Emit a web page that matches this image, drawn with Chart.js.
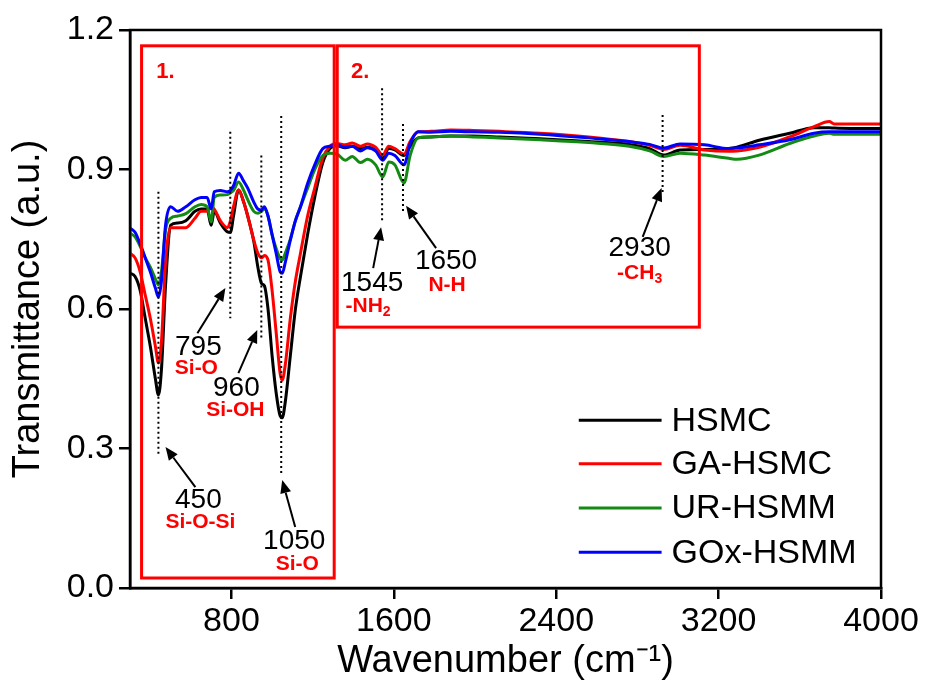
<!DOCTYPE html>
<html><head><meta charset="utf-8">
<script src="https://cdn.jsdelivr.net/npm/chart.js@4/dist/chart.umd.min.js"></script>
<style>html,body{margin:0;padding:0;background:#fff;}</style>
</head><body>
<canvas id="c" width="925" height="687"></canvas>
<script>
// ---- data (wavenumber in cm-1, transmittance in a.u.) ----
const wavenumbers = [300,325,350,375,400,425,440,455,475,500,535,575,620,650,680,700,715,745,780,795,810,835,860,880,910,930,948,962,980,1000,1020,1040,1050,1065,1090,1115,1140,1175,1210,1250,1285,1320,1360,1395,1435,1470,1510,1545,1575,1605,1650,1680,1720,1780,1880,1990,2120,2320,2560,2760,2860,2930,3010,3130,3250,3290,3400,3550,3670,3745,3770,3890,4000];
const hsmc = [0.677,0.67,0.64,0.58,0.52,0.45,0.415,0.47,0.65,0.78,0.785,0.79,0.81,0.815,0.815,0.78,0.81,0.785,0.766,0.765,0.80,0.856,0.83,0.80,0.745,0.69,0.655,0.65,0.60,0.50,0.42,0.37,0.366,0.40,0.50,0.60,0.67,0.76,0.84,0.915,0.945,0.951,0.947,0.95,0.945,0.948,0.942,0.925,0.945,0.942,0.93,0.95,0.968,0.97,0.972,0.972,0.97,0.966,0.96,0.954,0.945,0.931,0.942,0.943,0.945,0.948,0.963,0.978,0.99,0.99,0.989,0.988,0.988];
const gaHsmc = [0.72,0.71,0.68,0.63,0.58,0.52,0.484,0.53,0.70,0.775,0.775,0.775,0.795,0.81,0.81,0.82,0.815,0.79,0.775,0.79,0.82,0.856,0.83,0.80,0.748,0.72,0.71,0.715,0.705,0.64,0.55,0.46,0.447,0.48,0.58,0.66,0.72,0.80,0.86,0.925,0.95,0.956,0.953,0.957,0.95,0.955,0.948,0.931,0.95,0.945,0.933,0.96,0.981,0.982,0.985,0.984,0.982,0.978,0.97,0.96,0.952,0.943,0.952,0.942,0.939,0.94,0.948,0.97,0.992,1.003,0.998,0.998,0.998];
const urHsmm = [0.763,0.755,0.735,0.71,0.69,0.665,0.652,0.68,0.77,0.795,0.80,0.805,0.82,0.825,0.82,0.787,0.84,0.845,0.846,0.85,0.855,0.873,0.855,0.835,0.81,0.806,0.81,0.815,0.80,0.76,0.73,0.708,0.705,0.72,0.75,0.79,0.82,0.86,0.90,0.93,0.935,0.933,0.92,0.928,0.915,0.922,0.91,0.884,0.916,0.91,0.871,0.93,0.968,0.97,0.972,0.97,0.968,0.964,0.958,0.95,0.94,0.928,0.935,0.931,0.924,0.922,0.931,0.956,0.972,0.978,0.976,0.976,0.976];
const goxHsmm = [0.774,0.765,0.74,0.71,0.68,0.645,0.626,0.66,0.78,0.82,0.81,0.82,0.835,0.84,0.84,0.815,0.852,0.855,0.852,0.855,0.865,0.892,0.875,0.86,0.83,0.815,0.813,0.82,0.80,0.76,0.72,0.68,0.677,0.70,0.748,0.79,0.82,0.87,0.91,0.945,0.95,0.953,0.948,0.95,0.94,0.947,0.94,0.92,0.935,0.93,0.91,0.955,0.981,0.98,0.982,0.981,0.98,0.976,0.968,0.96,0.954,0.946,0.955,0.953,0.945,0.946,0.953,0.964,0.978,0.981,0.981,0.981,0.981];
const seriesNames = ['HSMC','GA-HSMC','UR-HSMM','GOx-HSMM'];
const seriesColors = ['#000000','#ff0000','#138a13','#0000ff'];
const xTicks = [800,1600,2400,3200,4000];
const yTicks = [0.0,0.3,0.6,0.9,1.2];

// annotations in data units
const peakLines = [ // [wavenumber, top, bottom]
  [440,0.852,0.286],[794,0.981,0.58],[947,0.93,0.533],[1045,1.015,0.243],
  [1542,1.075,0.79],[1645,0.998,0.808],[2924,1.017,0.85]
];
const peakArrows = [ // [tailX, tailY, headX, headY]
  [622,0.217,475,0.303],[632,0.548,770,0.645],[834,0.462,927,0.555],[1114,0.131,1050,0.232],
  [1498,0.688,1537,0.776],[1808,0.731,1660,0.822],[2826,0.755,2919,0.86]
];
const peakLabels = [ // [number, x, y, group, x, y, subscript]
  ['450',637,0.189,'Si-O-Si',647,0.142,''],
  ['795',637,0.518,'Si-O',627,0.473,''],
  ['960',824,0.43,'Si-OH',819,0.383,''],
  ['1050',1109,0.101,'Si-O',1124,0.052,''],
  ['1545',1493,0.656,'-NH',1473,0.606,'2'],
  ['1650',1857,0.703,'N-H',1862,0.652,''],
  ['2930',2811,0.731,'-CH',2811,0.677,'3']
];
const regionBoxes = [ // [label, x1, x2, y1, y2, labelX, labelY]
  ['1.',357,1306,0.0215,1.166,475,1.11],
  ['2.',1321,3105,0.561,1.166,1434,1.11]
];
const legendLine = [2511, 2919]; // legend sample line, wavenumber units
const legendTextX = 2968;
const legendRows = [0.361, 0.267, 0.172, 0.077];

const FONT = "'Liberation Sans', Arial, sans-serif";
const allSeries = [hsmc, gaHsmc, urHsmm, goxHsmm];

const datasets = allSeries.map((vals, i) => ({
  label: seriesNames[i],
  data: wavenumbers.map((w, j) => ({x: w, y: vals[j]})),
  borderColor: seriesColors[i],
  backgroundColor: seriesColors[i],
  borderWidth: 3,
  pointRadius: 0,
  tension: 0.25,
  cubicInterpolationMode: 'monotone',
  fill: false,
  order: 4 - i
}));

function arrow(ctx, x1, y1, x2, y2) {
  const a = Math.atan2(y2 - y1, x2 - x1);
  const L = 13, W = 5.5;
  const bx = x2 - L * Math.cos(a), by = y2 - L * Math.sin(a);
  ctx.beginPath(); ctx.moveTo(x1, y1); ctx.lineTo(bx, by); ctx.stroke();
  ctx.beginPath();
  ctx.moveTo(x2, y2);
  ctx.lineTo(bx + W * Math.sin(a), by - W * Math.cos(a));
  ctx.lineTo(bx - W * Math.sin(a), by + W * Math.cos(a));
  ctx.closePath(); ctx.fill();
}

const overlay = {
  id: 'overlay',
  afterDatasetsDraw(chart) {
    const ctx = chart.ctx, xs = chart.scales.x, ys = chart.scales.y, ca = chart.chartArea;
    const X = v => xs.getPixelForValue(v), Y = v => ys.getPixelForValue(v);
    ctx.save();
    // frame
    ctx.strokeStyle = '#000'; ctx.lineWidth = 2.5;
    ctx.strokeRect(ca.left, ca.top, ca.right - ca.left, ca.bottom - ca.top);
    // dotted peak lines
    ctx.lineWidth = 2; ctx.setLineDash([2, 3]);
    peakLines.forEach(p => { ctx.beginPath(); ctx.moveTo(X(p[0]), Y(p[1])); ctx.lineTo(X(p[0]), Y(p[2])); ctx.stroke(); });
    ctx.setLineDash([]);
    // arrows
    ctx.fillStyle = '#000'; ctx.lineWidth = 2;
    peakArrows.forEach(a => arrow(ctx, X(a[0]), Y(a[1]), X(a[2]), Y(a[3])));
    // labels
    ctx.textAlign = 'center'; ctx.textBaseline = 'middle';
    peakLabels.forEach(l => {
      ctx.fillStyle = '#000'; ctx.font = '28px ' + FONT;
      ctx.fillText(l[0], X(l[1]), Y(l[2]));
      ctx.fillStyle = '#ff0000'; ctx.font = 'bold 21px ' + FONT;
      if (l[6]) {
        const w1 = ctx.measureText(l[3]).width;
        ctx.font = 'bold 14px ' + FONT;
        const w2 = ctx.measureText(l[6]).width;
        const sx = X(l[4]) - (w1 + w2) / 2;
        ctx.textAlign = 'left';
        ctx.font = 'bold 21px ' + FONT;
        ctx.fillText(l[3], sx, Y(l[5]));
        ctx.font = 'bold 14px ' + FONT;
        ctx.fillText(l[6], sx + w1, Y(l[5]) + 6);
        ctx.textAlign = 'center';
      } else {
        ctx.fillText(l[3], X(l[4]), Y(l[5]));
      }
    });
    // region boxes
    ctx.strokeStyle = '#ff0000'; ctx.lineWidth = 3;
    regionBoxes.forEach(b => {
      ctx.strokeRect(X(b[1]), Y(b[4]), X(b[2]) - X(b[1]), Y(b[3]) - Y(b[4]));
      ctx.fillStyle = '#ff0000'; ctx.font = 'bold 22px ' + FONT;
      ctx.fillText(b[0], X(b[5]), Y(b[6]));
    });
    // legend
    ctx.textAlign = 'left'; ctx.font = '34px ' + FONT;
    seriesNames.forEach((n, i) => {
      const y = Y(legendRows[i]);
      ctx.strokeStyle = seriesColors[i]; ctx.lineWidth = 3;
      ctx.beginPath(); ctx.moveTo(X(legendLine[0]), y); ctx.lineTo(X(legendLine[1]), y); ctx.stroke();
      ctx.fillStyle = '#000'; ctx.fillText(n, X(legendTextX), y + 1);
    });
    ctx.restore();
  }
};

new Chart(document.getElementById('c'), {
  type: 'line',
  data: { datasets },
  options: {
    responsive: false, animation: false, devicePixelRatio: 1,
    layout: { padding: { left: 0, right: 44, top: 30, bottom: 0 } },
    plugins: { legend: { display: false }, tooltip: { enabled: false } },
    scales: {
      x: {
        type: 'linear', min: 300, max: 4000,
        afterBuildTicks: s => { s.ticks = xTicks.map(v => ({ value: v })); },
        afterFit: s => { s.height = 99; },
        border: { color: '#000', width: 2.5 },
        grid: { drawOnChartArea: false, color: '#000', lineWidth: 2.5, tickLength: 11 },
        ticks: { color: '#000', font: { family: FONT, size: 34 }, padding: 2, maxRotation: 0, callback: v => String(v) },
        title: { display: true, text: 'Wavenumber (cm\u207B\u00B9)', color: '#000', font: { family: FONT, size: 38 }, padding: { top: 0, bottom: 3 } }
      },
      y: {
        min: 0, max: 1.2,
        afterBuildTicks: s => { s.ticks = yTicks.map(v => ({ value: v })); },
        afterFit: s => { s.width = 130; },
        border: { color: '#000', width: 2.5 },
        grid: { drawOnChartArea: false, color: '#000', lineWidth: 2.5, tickLength: 11 },
        ticks: { color: '#000', font: { family: FONT, size: 34 }, padding: 5, callback: v => Number(v).toFixed(1) },
        title: { display: true, text: 'Transmittance (a.u.)', color: '#000', font: { family: FONT, size: 38 }, padding: { top: 6, bottom: 0 } }
      }
    }
  },
  plugins: [overlay]
});
</script>
</body></html>
